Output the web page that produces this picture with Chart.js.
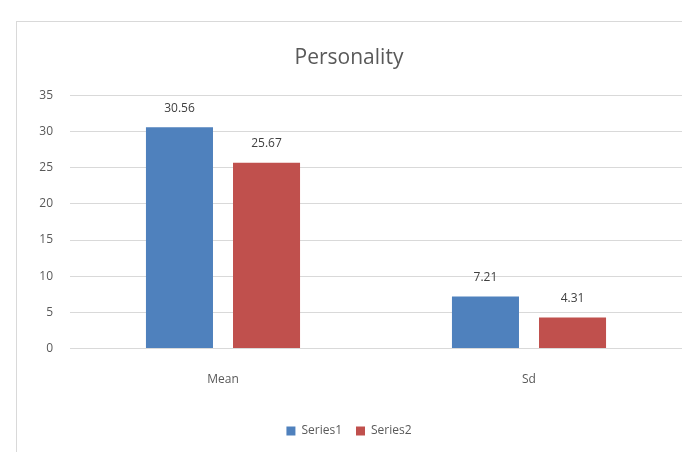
<!DOCTYPE html>
<html>
<head>
<meta charset="utf-8">
<script src="https://cdn.jsdelivr.net/npm/chart.js@4/dist/chart.umd.min.js"></script>
<style>
  html, body { margin: 0; padding: 0; background: #ffffff; }
  #wrap { width: 682px; height: 452px; position: relative; }
</style>
</head>
<body>
<div id="wrap"><canvas id="c" width="682" height="452"></canvas></div>
<script>
const categories = ['Mean', 'Sd'];
const series1 = [30.56, 7.21];
const series2 = [25.67, 4.31];
const seriesNames = ['Series1', 'Series2'];
const yTicks = [0, 5, 10, 15, 20, 25, 30, 35];

const FONT = "'Open Sans', 'Noto Sans', sans-serif";
const TEXT = '#595959';

// white page plus the thin frame around the chart
const frame = {
  id: 'frame',
  beforeDraw(chart) {
    const ctx = chart.ctx;
    ctx.save();
    ctx.fillStyle = '#ffffff';
    ctx.fillRect(0, 0, chart.width, chart.height);
    ctx.strokeStyle = '#d9d9d9';
    ctx.lineWidth = 1;
    ctx.strokeRect(16.5, 21.5, chart.width + 20, chart.height + 20);
    ctx.restore();
  }
};

// value printed above each bar
const valueLabels = {
  id: 'valueLabels',
  afterDatasetsDraw(chart) {
    const ctx = chart.ctx;
    ctx.save();
    ctx.font = "12px " + FONT;
    ctx.fillStyle = '#404040';
    ctx.textAlign = 'center';
    ctx.textBaseline = 'middle';
    chart.data.datasets.forEach((ds, i) => {
      chart.getDatasetMeta(i).data.forEach((bar, j) => {
        ctx.fillText(ds.data[j].toFixed(2), bar.x, bar.y - 19);
      });
    });
    ctx.restore();
  }
};

new Chart(document.getElementById('c'), {
  type: 'bar',
  data: {
    labels: categories,
    datasets: [
      { label: seriesNames[0], data: series1, backgroundColor: '#4F81BD' },
      { label: seriesNames[1], data: series2, backgroundColor: '#C0504D' }
    ]
  },
  options: {
    responsive: false,
    animation: false,
    devicePixelRatio: 1,
    categoryPercentage: 0.569,
    barPercentage: 0.77,
    layout: { padding: { left: 16, right: 0, top: 0, bottom: 5 } },
    plugins: {
      title: {
        display: true,
        text: 'Personality',
        color: TEXT,
        font: { family: FONT, size: 21, weight: 'normal' },
        padding: { top: 45, bottom: 25 }
      },
      legend: {
        position: 'bottom',
        labels: {
          color: TEXT,
          font: { family: FONT, size: 12 },
          boxWidth: 9,
          boxHeight: 9,
          padding: 14
        }
      },
      tooltip: { enabled: false }
    },
    scales: {
      x: {
        grid: { display: false, drawTicks: false },
        border: { display: false },
        ticks: { color: TEXT, font: { family: FONT, size: 12 }, padding: 24 }
      },
      y: {
        min: 0,
        max: 35,
        afterFit(scale) { scale.width = 54; },
        afterBuildTicks(scale) { scale.ticks = yTicks.map(v => ({ value: v })); },
        grid: { color: '#d9d9d9', drawTicks: false },
        border: { display: false },
        ticks: { color: TEXT, font: { family: FONT, size: 12 }, padding: 17 }
      }
    }
  },
  plugins: [frame, valueLabels]
});
</script>
</body>
</html>
